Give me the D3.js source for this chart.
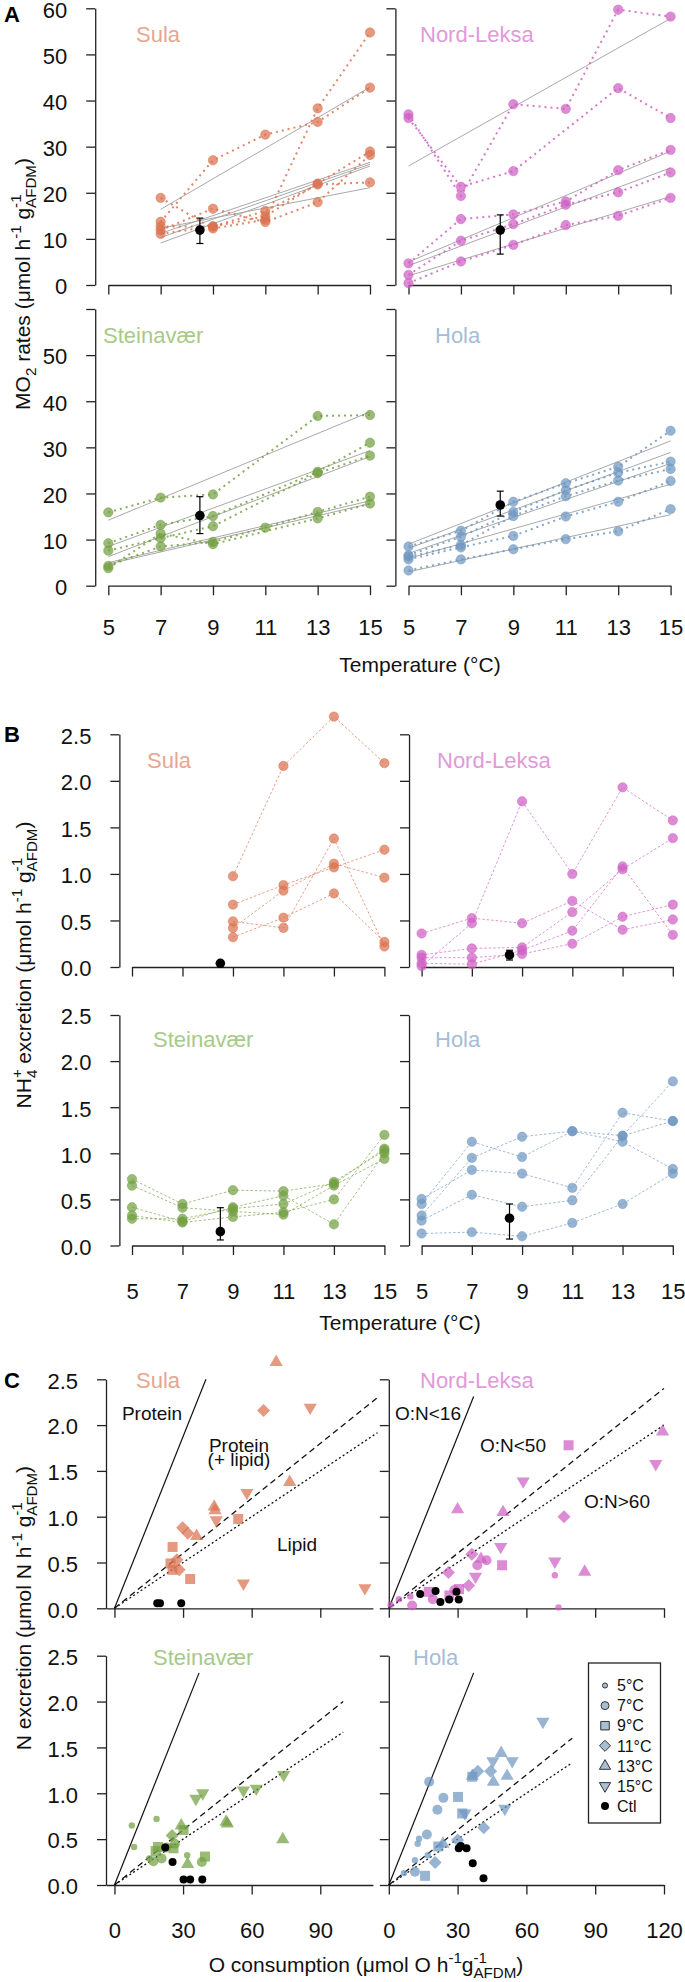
<!DOCTYPE html>
<html><head><meta charset="utf-8">
<script src="https://cdn.jsdelivr.net/npm/d3@7"></script>
<style>
body{margin:0;background:#fff;}
svg{display:block;}
</style></head>
<body><svg id="chart" width="685" height="1982"></svg>
<script>
// ---------------- DATA ----------------
const temps = [5, 7, 9, 11, 13, 15];
const populations = ["Sula", "Nord-Leksa", "Steinavær", "Hola"];

// MO2 rates (µmol O2 h-1 gAFDM-1): rows = individuals, columns = temps
const sulaMO2  = [[null,13.7,27.05,32.6,35.35,42.8],[null,11.1,12.7,14.9,22.0,28.95],[null,12.7,12.7,16.05,21.8,22.25],[null,11.9,16.55,13.65,17.95,28.2],[null,18.9,12.25,14.15,38.3,54.75]];
const nlMO2    = [[36.2,21.3,24.7,null,42.7,36.2],[37.0,19.3,39.2,38.2,59.7,58.2],[4.7,14.3,15.3,18.1,24.9,29.3],[2.2,9.6,13.2,17.4,20.1,24.4],[0.4,5.1,8.7,13.0,15.0,18.9]];
const steinMO2 = [[15.9,19.1,19.8,null,36.8,37.0],[9.2,13.2,15.1,null,24.7,31.0],[7.6,10.3,12.9,null,24.4,28.2],[4.3,8.5,9.5,12.6,16.0,19.3],[3.8,11.3,9.0,null,14.6,17.8]];
const holaMO2  = [[8.5,11.9,18.2,22.2,25.8,33.6],[6.6,10.6,16.0,20.7,24.5,26.9],[6.3,8.8,15.1,19.4,22.8,25.3],[5.7,8.3,10.8,15.0,18.2,22.7],[3.3,5.7,7.9,10.1,11.8,16.6]];

// NH4+ excretion (µmol h-1 gAFDM-1)
const sulaNH4  = [[null,null,0.975,2.16,2.69,2.19],[null,null,0.67,0.88,1.07,1.26],[null,null,0.42,0.82,1.11,0.96],[null,null,0.32,0.53,0.79,0.27],[null,null,0.49,0.42,1.38,0.22]];
const nlNH4    = [[0.36,0.525,0.47,0.71,0.40,0.51],[0.01,0.47,1.78,1.00,1.93,1.575],[0.13,0.20,0.21,0.59,1.05,1.385],[0.10,0.10,0.14,0.25,0.54,0.67],[0.04,0.03,0.18,0.39,1.08,0.345]];
const steinNH4 = [[0.325,0.25,0.31,0.36,0.50,1.20],[0.72,0.45,0.60,0.59,0.67,1.05],[0.29,0.29,0.40,0.45,0.69,1.03],[0.415,0.26,0.415,0.54,0.23,1.00],[0.65,0.41,0.37,0.335,0.65,0.94]];
const holaNH4  = [[0.325,0.95,1.18,1.24,1.19,1.78],[0.505,0.82,0.78,0.625,1.44,1.35],[0.45,1.125,0.96,1.24,1.125,0.83],[0.27,0.55,0.42,0.49,1.19,1.35],[0.13,0.145,0.10,0.245,0.45,0.78]];

// linear fits per individual (value at first temp, value at 15 °C)
const fitTemps = [[7,15],[5,15],[5,15],[5,15]];
const sulaFit  = [[16.4,42.9],[12.3,21.1],[11.2,26.6],[10.3,26.2],[9.1,25.8]];
const nlFit    = [[25.8,57.8],[5.0,29.0],[4.2,25.4],[2.0,19.2]];
const steinFit = [[14.2,37.7],[8.5,29.3],[6.3,28.0],[5.0,18.4],[4.7,17.8]];
const holaFit  = [[9.0,31.4],[8.1,28.9],[7.0,26.5],[5.9,22.0],[3.0,15.4]];

// controls: mean, low, high
const ctlTemp = 8.5;
const ctlMO2 = [[11.9,9.0,14.5],[11.9,6.7,15.2],[15.2,11.3,19.3],[17.5,15.1,20.5]];
const ctlNH4 = [[0.04,0.02,0.06],[0.13,0.075,0.18],[0.15,0.06,0.41],[0.296,0.07,0.45]];

// control individuals in panel C (O consumption, N excretion)
const sulaCtlO  = [18.7,19.9,29.2];                const sulaCtlN  = [0.055,0.055,0.055];
const nlCtlO    = [13.7,20.4,22.5,26.3,29.5,30.5]; const nlCtlN    = [0.156,0.19,0.07,0.096,0.18,0.096];
const steinCtlO = [22.2,25.4,30.2,33.1,38.4];      const steinCtlN = [0.41,0.25,0.06,0.06,0.06];
const holaCtlO  = [30.5,33.9,31.4,36.6,41.3];      const holaCtlN  = [0.40,0.40,0.425,0.236,0.073];

// O:N reference ratios and their extents
const onRatios = [16, 50, 60];
const solidEnd = [40, 37, 37, 37];
const ratioEnd = [115, 120, 100, 80];

const yTicksA = [0,10,20,30,40,50,60];
const yTicksN = [0,0.5,1,1.5,2,2.5];
const xTicksC = [[0,30,60,90],[0,30,60,90,120]];
const legendLabels = ["5°C","7°C","9°C","11°C","13°C","15°C","Ctl"];
const sulaNotes = ["Protein","Protein","(+ lipid)","Lipid"];
const nlNotes = ["O:N<16","O:N<50","O:N>60"];

const mo2 = [sulaMO2, nlMO2, steinMO2, holaMO2];
const nh4 = [sulaNH4, nlNH4, steinNH4, holaNH4];
const fits = [sulaFit, nlFit, steinFit, holaFit];
const ctlO = [sulaCtlO, nlCtlO, steinCtlO, holaCtlO];
const ctlN = [sulaCtlN, nlCtlN, steinCtlN, holaCtlN];

// ---------------- STYLE ----------------
const FONT = '"Liberation Sans", Arial, Helvetica, sans-serif';
const popColors = ["#D9724F","#CF60C3","#73A042","#6F97C0"];
const labelColors = ["#E8A68E","#E19AD9","#A8C98A","#A6BDD6"];
const svg = d3.select("#chart").attr("font-family", FONT);

function measure(str, size){
  const t = svg.append("text").attr("font-size", size).attr("font-family", FONT).text(str);
  const w = t.node().getComputedTextLength(); t.remove(); return w;
}
function rich(parent, segs, size){
  const t = parent.append("text").attr("font-size", size).attr("text-anchor","middle").attr("fill","#111");
  const small = size*0.72, up = -size*0.42, down = size*0.3;
  let cur = 0;
  segs.forEach(s=>{
    if (s.stack){
      t.append("tspan").attr("font-size", small).attr("dy", up-cur).text(s.stack[0]);
      t.append("tspan").attr("font-size", small).attr("dx", -measure(s.stack[0], small)).attr("dy", down-up).text(s.stack[1]);
      cur = down;
    } else if (s.pos==="sup"){ t.append("tspan").attr("font-size", small).attr("dy", up-cur).text(s.t); cur = up; }
    else if (s.pos==="sub"){ t.append("tspan").attr("font-size", small).attr("dy", down-cur).text(s.t); cur = down; }
    else { t.append("tspan").attr("font-size", size).attr("dy", -cur).text(s.t); cur = 0; }
  });
  return t;
}
function styleAxis(g, fs, isY){
  g.attr("font-family", FONT).attr("font-size", fs);
  g.selectAll(".domain").attr("stroke","#222").attr("stroke-width",1.3);
  g.selectAll(".tick line").attr("stroke","#222").attr("stroke-width",1.3);
  g.selectAll(".tick text").attr("fill","#111");
  if (isY) g.selectAll(".tick text").attr("dy","0.4em");
}
function circ(r){ return `M${r},0A${r},${r},0,1,1,${-r},0A${r},${r},0,1,1,${r},0Z`; }
function sym(k, s){
  s = s || 1;
  if (k===0) return circ(3.2*s);
  if (k===1) return circ(5*s);
  if (k===2){ const h=5*s; return `M${-h},${-h}H${h}V${h}H${-h}Z`; }
  if (k===3){ const h=6.5*s; return `M0,${-h}L${h},0L0,${h}L${-h},0Z`; }
  if (k===4){ const a=6.6*s; return `M0,${-7.4*s}L${a},${4*s}L${-a},${4*s}Z`; }
  const a=6.6*s; return `M0,${7.4*s}L${a},${-4*s}L${-a},${-4*s}Z`;
}

// ---------------- PANELS A & B ----------------
const xRangeA = [[108.3,370],[408.5,670.6]], yRangeA = [[285,8.3],[585.7,309]];
const xRangeB = [[132,384.4],[421.6,672.8]], yRangeB = [[967,734.3],[1245.5,1015]];
const nameA = [[136,42],[420,42],[103,343],[435,343]];
const nameB = [[147,768],[437,768],[153,1047],[435,1047]];
const nameC = [[136,1388],[420,1388],[153,1665],[413,1665]];

function panelAB(kind, p){
  const col = p%2, row = p>>1;
  const isA = kind==="A";
  const x = d3.scaleLinear().domain([5,15]).range(isA?xRangeA[col]:xRangeB[col]);
  const y = d3.scaleLinear().domain(isA?[0,60]:[0,2.5]).range(isA?yRangeA[row]:yRangeB[row]);
  const g = svg.append("g");
  const ax = x(4.5);
  const gx = g.append("g").attr("transform",`translate(0,${y(0)})`)
    .call(d3.axisBottom(x).tickValues(temps).tickSize(9.5).tickPadding(isA?24:28).tickSizeOuter(0)
      .tickFormat(row===1? d3.format("d") : ()=>""));
  styleAxis(gx, 22, false);
  const yt = isA? yTicksA : yTicksN;
  const gy = g.append("g").attr("transform",`translate(${ax},0)`)
    .call(d3.axisLeft(y).tickValues(yt).tickSize(9).tickPadding(19).tickSizeOuter(0)
      .tickFormat(col===0? (d=> (isA? (row===1 && d===60? "" : d3.format("d")(d)) : d3.format(".1f")(d))) : ()=>""));
  styleAxis(gy, 22, true);

  const vals = isA? mo2[p] : nh4[p];
  const color = popColors[p];
  if (isA){
    const ft = fitTemps[p];
    g.append("g").selectAll("line").data(fits[p]).join("line")
      .attr("x1", x(ft[0])).attr("x2", x(ft[1]))
      .attr("y1", d=>y(d[0])).attr("y2", d=>y(d[1]))
      .attr("stroke","#A9A9A9").attr("stroke-width",1);
  }
  const line = d3.line().x(d=>x(d[0])).y(d=>y(d[1]));
  const series = vals.map(r => temps.map((t,j)=>[t, r[j]]).filter(d=>d[1]!=null));
  g.append("g").selectAll("path").data(series).join("path")
    .attr("d", line).attr("fill","none").attr("stroke", color)
    .attr("stroke-opacity", isA?0.85:0.75)
    .attr("stroke-width", isA?2:0.9)
    .attr("stroke-dasharray", isA?"2,4":"2.5,2");
  const pts = series.flat();
  g.append("g").selectAll("circle").data(pts).join("circle")
    .attr("cx", d=>x(d[0])).attr("cy", d=>y(d[1])).attr("r", 4.7)
    .attr("fill", color).attr("fill-opacity", 0.72)
    .attr("stroke", color).attr("stroke-opacity", 0.6).attr("stroke-width", 0.8);
  const c = isA? ctlMO2[p] : ctlNH4[p];
  const cg = g.append("g").attr("stroke","#000").attr("stroke-width",1.2);
  cg.append("line").attr("x1",x(ctlTemp)).attr("x2",x(ctlTemp)).attr("y1",y(c[1])).attr("y2",y(c[2]));
  cg.append("line").attr("x1",x(ctlTemp)-3.5).attr("x2",x(ctlTemp)+3.5).attr("y1",y(c[1])).attr("y2",y(c[1]));
  cg.append("line").attr("x1",x(ctlTemp)-3.5).attr("x2",x(ctlTemp)+3.5).attr("y1",y(c[2])).attr("y2",y(c[2]));
  g.append("circle").attr("cx",x(ctlTemp)).attr("cy",y(c[0])).attr("r",4.8).attr("fill","#000");
  const nm = isA? nameA[p] : nameB[p];
  g.append("text").attr("x", nm[0]).attr("y", nm[1]).attr("font-size", 22)
    .attr("fill", labelColors[p]).text(populations[p]);
}

// ---------------- PANEL C ----------------
const yRangeC = [[1608.3,1379.3],[1885,1655.7]];
function panelC(p){
  const col = p%2, row = p>>1;
  const x = col===0 ? d3.scaleLinear().domain([-3.7,113]).range([106,372.9])
                    : d3.scaleLinear().domain([0,120]).range([388.8,664]);
  const y = d3.scaleLinear().domain([0,2.5]).range(yRangeC[row]);
  const g = svg.append("g");
  const gx = g.append("g").attr("transform",`translate(0,${y(0)})`)
    .call(d3.axisBottom(x).tickValues(xTicksC[col]).tickSize(9.5).tickPadding(28).tickSizeOuter(0)
      .tickFormat(row===1? d3.format("d") : ()=>""));
  styleAxis(gx, 22, false);
  const gy = g.append("g").attr("transform",`translate(${x.range()[0]},0)`)
    .call(d3.axisLeft(y).tickValues(yTicksN).tickSize(9).tickPadding(19).tickSizeOuter(0)
      .tickFormat(col===0? d3.format(".1f") : ()=>""));
  styleAxis(gy, 22, true);

  const ends = [solidEnd[p], ratioEnd[p], ratioEnd[p]];
  const dashes = [null, "6,4", "2,2.5"];
  onRatios.forEach((r,i)=>{
    g.append("line").attr("x1",x(0)).attr("y1",y(0)).attr("x2",x(ends[i])).attr("y2",y(ends[i]/r))
      .attr("stroke","#111").attr("stroke-width",i===0?1.2:1.3).attr("stroke-dasharray",dashes[i]);
  });
  // O consumption = 2 x MO2 (µmol O), N excretion = NH4+
  const pts = [];
  mo2[p].forEach((r,i)=> r.forEach((v,j)=>{
    const n = nh4[p][i][j];
    if (v!=null && n!=null) pts.push({o:2*v, n:n, k:j});
  }));
  g.append("g").selectAll("path").data(pts).join("path")
    .attr("transform", d=>`translate(${x(d.o)},${y(d.n)})`)
    .attr("d", d=>sym(d.k)).attr("fill", popColors[p]).attr("fill-opacity",0.72);
  g.append("g").selectAll("circle").data(ctlO[p].map((o,i)=>[o, ctlN[p][i]])).join("circle")
    .attr("cx", d=>x(d[0])).attr("cy", d=>y(d[1])).attr("r", 4).attr("fill","#000");
  g.append("text").attr("x", nameC[p][0]).attr("y", nameC[p][1]).attr("font-size", 22)
    .attr("fill", labelColors[p]).text(populations[p]);

  if (p===0){
    const pos = [[152,1420],[239,1452],[239,1466],[297,1551]];
    sulaNotes.forEach((t,i)=> g.append("text").attr("x",pos[i][0]).attr("y",pos[i][1]).attr("font-size",19)
      .attr("text-anchor","middle").attr("fill","#111").text(t));
  }
  if (p===1){
    const pos = [[428,1420],[513,1452],[617,1508]];
    nlNotes.forEach((t,i)=> g.append("text").attr("x",pos[i][0]).attr("y",pos[i][1]).attr("font-size",19)
      .attr("text-anchor","middle").attr("fill","#111").text(t));
  }
  if (p===3){
    const lg = g.append("g");
    lg.append("rect").attr("x",588.5).attr("y",1663).attr("width",72).attr("height",160)
      .attr("fill","#fff").attr("stroke","#222").attr("stroke-width",1.3);
    legendLabels.forEach((t,i)=>{
      const yy = 1685.5 + i*20.1;
      if (i<6) lg.append("path").attr("transform",`translate(605,${yy})`).attr("d", sym(i, i<2?0.8:0.85))
        .attr("fill","#A9BDD3").attr("stroke","#333").attr("stroke-width",1);
      else lg.append("circle").attr("cx",605).attr("cy",yy).attr("r",4).attr("fill","#000");
      lg.append("text").attr("x",617).attr("y",yy).attr("dy","0.36em").attr("font-size",16).attr("fill","#111").text(t);
    });
  }
}

for (let p=0;p<4;p++) panelAB("A", p);
for (let p=0;p<4;p++) panelAB("B", p);
for (let p=0;p<4;p++) panelC(p);

// ---------------- LABELS ----------------
const letters = [["A",22],["B",742],["C",1388]];
letters.forEach(l=> svg.append("text").attr("x",4).attr("y",l[1]).attr("font-size",22).attr("font-weight","bold").attr("fill","#000").text(l[0]));

svg.append("text").attr("x",420).attr("y",672).attr("font-size",21).attr("text-anchor","middle").attr("fill","#111").text("Temperature (°C)");
svg.append("text").attr("x",400).attr("y",1330).attr("font-size",21).attr("text-anchor","middle").attr("fill","#111").text("Temperature (°C)");

const yl1 = rich(svg, [{t:"MO"},{t:"2",pos:"sub"},{t:" rates (μmol h"},{t:"-1",pos:"sup"},{t:" g"},{stack:["-1","AFDM"]},{t:")"}], 21);
yl1.attr("transform","translate(30,284) rotate(-90)");
const yl2 = rich(svg, [{t:"NH"},{stack:["+","4"]},{t:" excretion (μmol h"},{t:"-1",pos:"sup"},{t:" g"},{stack:["-1","AFDM"]},{t:")"}], 21);
yl2.attr("transform","translate(31,965) rotate(-90)");
const yl3 = rich(svg, [{t:"N excretion (μmol N h"},{t:"-1",pos:"sup"},{t:" g"},{stack:["-1","AFDM"]},{t:")"}], 21);
yl3.attr("transform","translate(31,1608) rotate(-90)");
const xl3 = rich(svg, [{t:"O consumption (μmol O h"},{t:"-1",pos:"sup"},{t:"g"},{stack:["-1","AFDM"]},{t:")"}], 21);
xl3.attr("transform","translate(366,1972)");
</script>
</body></html>
